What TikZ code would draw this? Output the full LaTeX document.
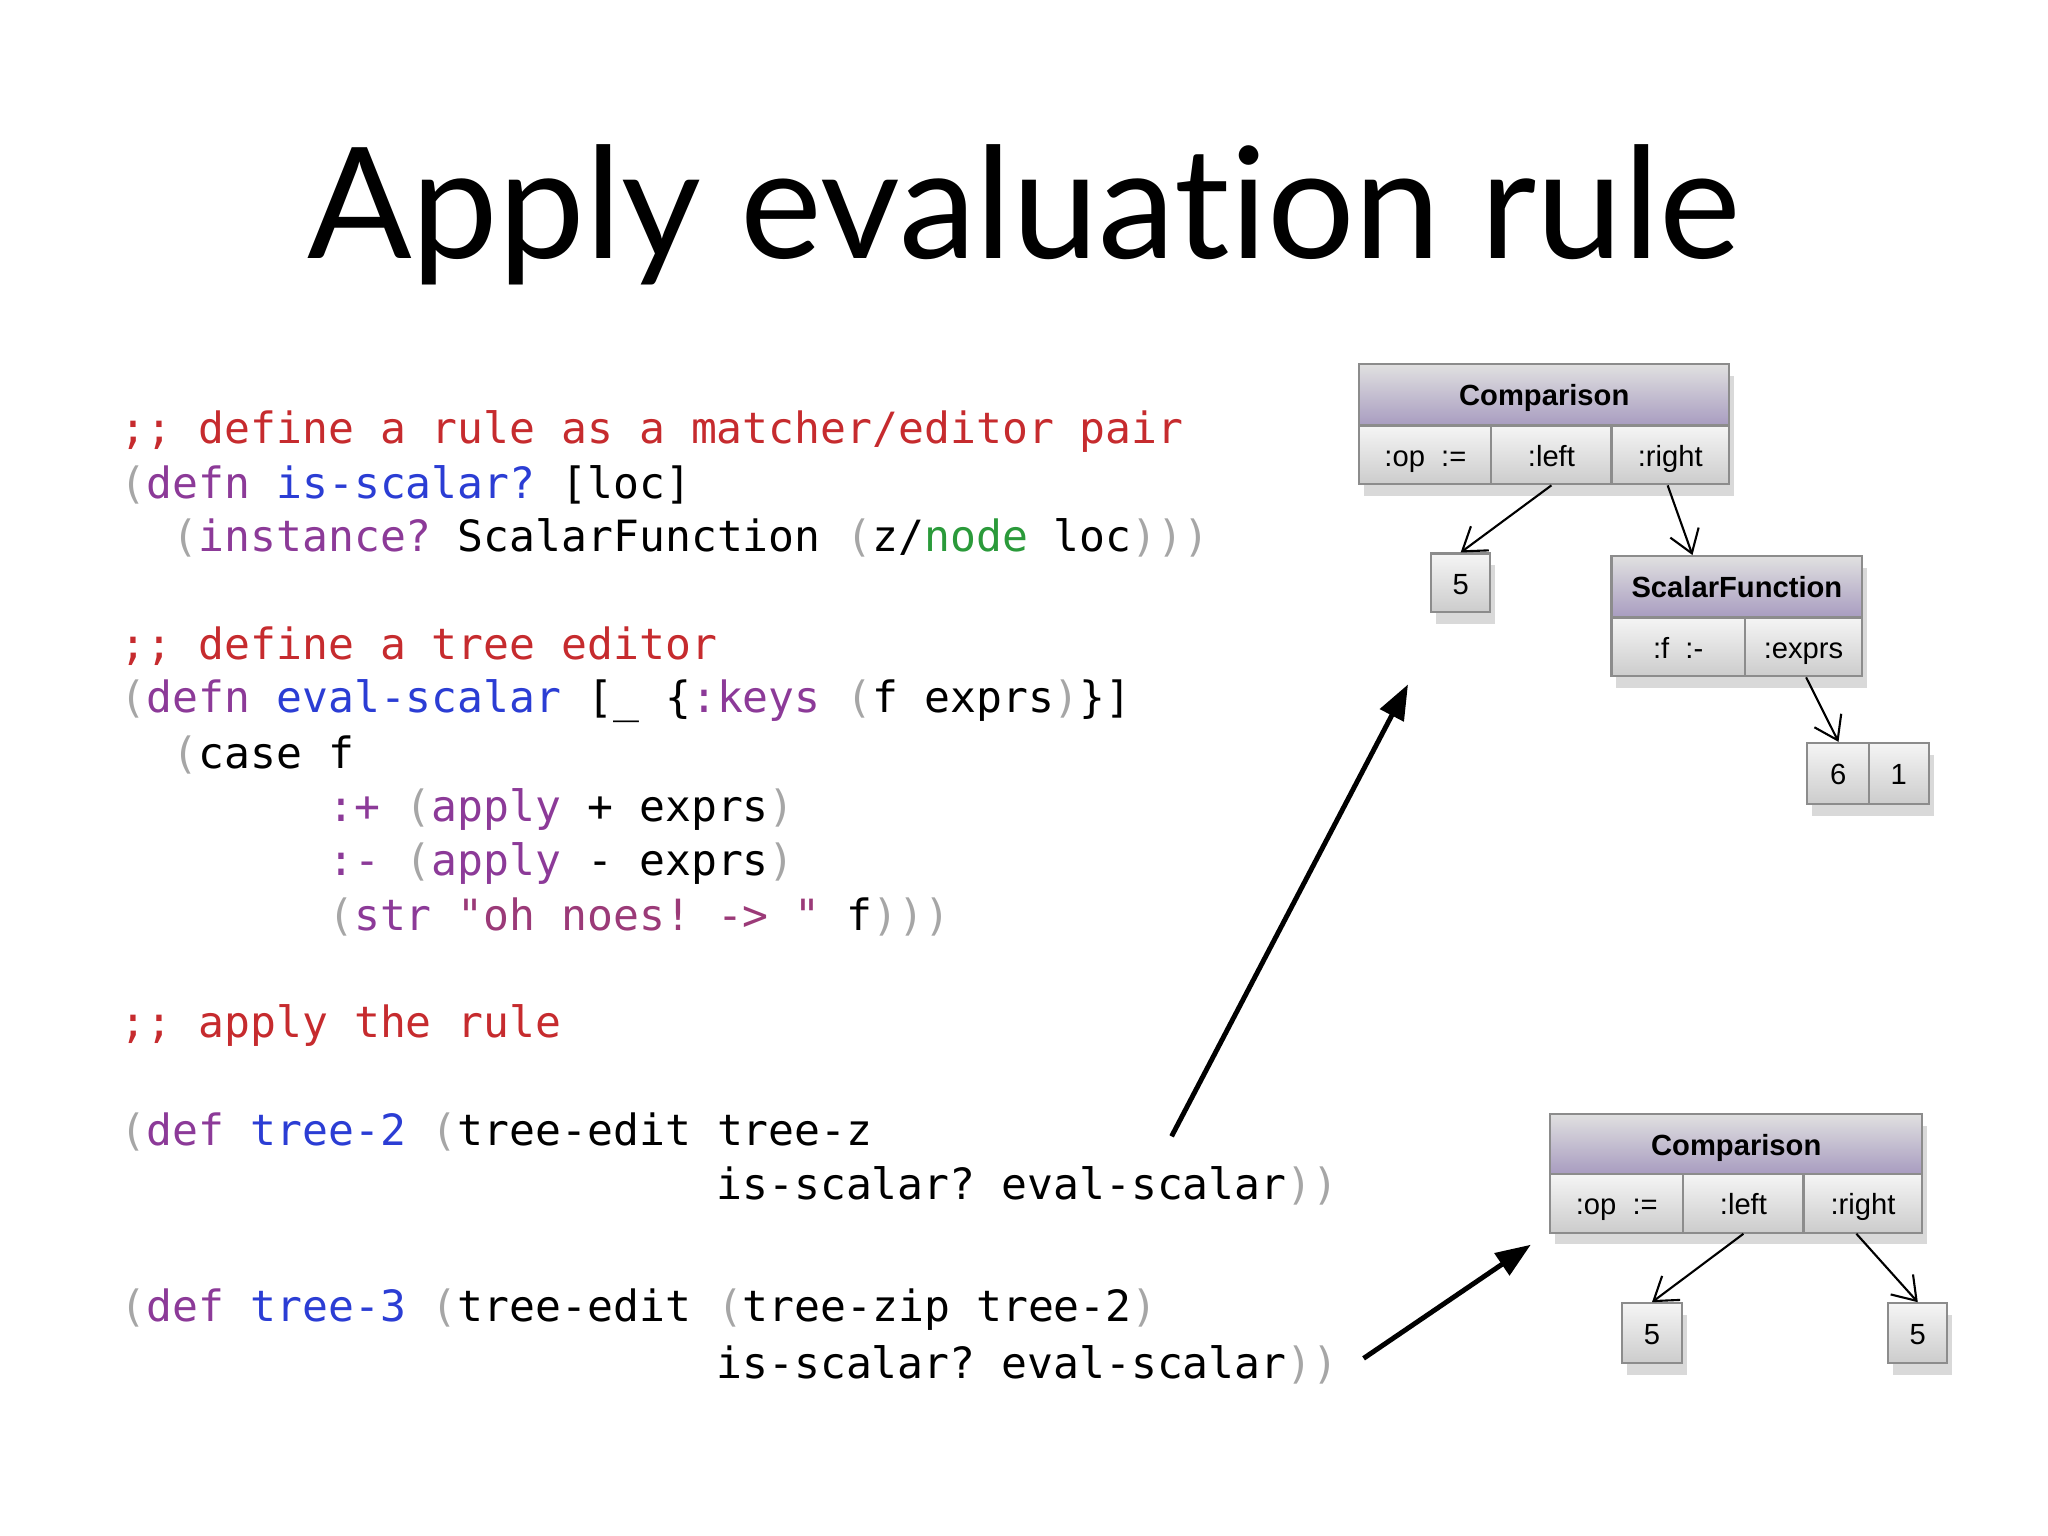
\documentclass[tikz,border=0pt]{standalone}
\usepackage{fontspec}
\setmainfont{Liberation Sans}
\setmonofont{DejaVu Sans Mono}
\newfontfamily\titlefont[Ligatures=NoCommon]{Lato}
\usetikzlibrary{shadows,arrows.meta}
\definecolor{cmt}{HTML}{C62B2E}
\definecolor{kw}{HTML}{8C3A98}
\definecolor{nm}{HTML}{2B3DD4}
\definecolor{pr}{HTML}{A6A6A6}
\definecolor{gr}{HTML}{2A9A3A}
\definecolor{st}{HTML}{9B3A78}
\newcommand\U{0.01306cm}
\newcommand\cCm[1]{\textcolor{cmt}{#1}}
\newcommand\cKw[1]{\textcolor{kw}{#1}}
\newcommand\cNm[1]{\textcolor{nm}{#1}}
\newcommand\cPr[1]{\textcolor{pr}{#1}}
\begin{document}
\begin{tikzpicture}[x=0.01306cm,y=-0.01306cm,
  code/.style={anchor=west,inner sep=0,font=\ttfamily\fontsize{12.25}{14}\selectfont},
  boxbg/.style={anchor=north west,inner sep=0,fill=white,drop shadow={shadow xshift=0.5mm,shadow yshift=-1.2mm,opacity=0.3}},
  hdr/.style={anchor=north west,inner sep=0,text height=1.6ex,text depth=0.4ex,draw=black!45,line width=0.6pt,top color=black!12,bottom color={rgb,255:red,168;green,156;blue,192},font=\bfseries\fontsize{8.3}{10}\selectfont},
  cell/.style={anchor=north west,inner sep=0,text height=1.6ex,text depth=0.4ex,draw=black!45,line width=0.6pt,top color=black!4,bottom color=black!20,font=\fontsize{8.3}{10}\selectfont},
  link/.style={-{Straight Barb[length=2.2mm,width=3mm]},line width=0.6pt},
  big/.style={-{Triangle[length=3.5mm,width=2.6mm]},line width=1.4pt}]
\useasboundingbox (0,0) rectangle (1568,1176);
\node[anchor=base,inner sep=0,font=\titlefont\fontsize{44}{46}\selectfont] (title) at (784,198) {Apply evaluation rule};
% code
\node[code] (l1) at (92,330) {\cCm{;; define a rule as a matcher/editor pair}};
\node[code] (l2) at (92,371) {\cPr{(}\cKw{defn} \cNm{is-scalar?} [loc]};
\node[code] (l3) at (92,412) {\ \ \cPr{(}\cKw{instance?} ScalarFunction \cPr{(}z/\textcolor{gr}{node} loc\cPr{)))}};
\node[code] (l4) at (92,495) {\cCm{;; define a tree editor}};
\node[code] (l5) at (92,537) {\cPr{(}\cKw{defn} \cNm{eval-scalar} [\_ \{\cKw{:keys} \cPr{(}f exprs\cPr{)}\}]};
\node[code] (l6) at (92,578) {\ \ \cPr{(}case f};
\node[code] (l7) at (92,620) {\ \ \ \ \ \ \ \ \cKw{:+} \cPr{(}\cKw{apply} + exprs\cPr{)}};
\node[code] (l8) at (92,661) {\ \ \ \ \ \ \ \ \cKw{:-} \cPr{(}\cKw{apply} - exprs\cPr{)}};
\node[code] (l9) at (92,702) {\ \ \ \ \ \ \ \ \cPr{(}\cKw{str} \textcolor{st}{"oh noes! -> "} f\cPr{)))}};
\node[code] (l10) at (92,785) {\cCm{;; apply the rule}};
\node[code] (l11) at (92,867) {\cPr{(}\cKw{def} \cNm{tree-2} \cPr{(}tree-edit tree-z};
\node[code] (l12) at (548,908) {is-scalar? eval-scalar\cPr{))}};
\node[code] (l13) at (92,1003) {\cPr{(}\cKw{def} \cNm{tree-3} \cPr{(}tree-edit \cPr{(}tree-zip tree-2\cPr{)}};
\node[code] (l14) at (548,1045) {is-scalar? eval-scalar\cPr{))}};
% tree 1
\node[boxbg,minimum width={283*\U},minimum height={92*\U}] (c1) at (1040,278) {};
\node[hdr,minimum width={283*\U},minimum height={47*\U}] (c1h) at (1040,278) {Comparison};
\node[cell,minimum width={101*\U},minimum height={45*\U}] (c1op) at (1040,325) {:op\ \ :=};
\node[cell,minimum width={92*\U},minimum height={45*\U}] (c1l) at (1141,325) {:left};
\node[cell,minimum width={90*\U},minimum height={45*\U}] (c1r) at (1233,325) {:right};
\node[boxbg,minimum width={45*\U},minimum height={45*\U}] (f1bg) at (1095,423) {};
\node[cell,minimum width={45*\U},minimum height={45*\U}] (f1) at (1095,423) {5};
\node[boxbg,minimum width={192*\U},minimum height={92*\U}] (s1) at (1233,425) {};
\node[hdr,minimum width={192*\U},minimum height={47*\U}] (s1h) at (1233,425) {ScalarFunction};
\node[cell,minimum width={102*\U},minimum height={45*\U}] (s1f) at (1233,472) {:f\ \ :-};
\node[cell,minimum width={90*\U},minimum height={45*\U}] (s1e) at (1335,472) {:exprs};
\node[boxbg,minimum width={93*\U},minimum height={47*\U}] (v1) at (1383,568) {};
\node[cell,minimum width={47*\U},minimum height={47*\U}] (v6) at (1383,568) {6};
\node[cell,minimum width={46*\U},minimum height={47*\U}] (v1b) at (1430,568) {1};
\draw[link] (c1l.south) -- (f1.north);
\draw[link] ([xshift={-2*\U}]c1r.south) -- ([xshift={-34*\U}]s1h.north);
\draw[link] ([xshift={2*\U}]s1e.south) -- ([xshift={-24*\U}]v6.north east);
% tree 2
\node[boxbg,minimum width={285*\U},minimum height={91*\U}] (c2) at (1186,852) {};
\node[hdr,minimum width={285*\U},minimum height={46*\U}] (c2h) at (1186,852) {Comparison};
\node[cell,minimum width={102*\U},minimum height={45*\U}] (c2op) at (1186,898) {:op\ \ :=};
\node[cell,minimum width={92*\U},minimum height={45*\U}] (c2l) at (1288,898) {:left};
\node[cell,minimum width={91*\U},minimum height={45*\U}] (c2r) at (1380,898) {:right};
\node[boxbg,minimum width={46*\U},minimum height={46*\U}] (g1bg) at (1241,997) {};
\node[cell,minimum width={46*\U},minimum height={46*\U}] (g1) at (1241,997) {5};
\node[boxbg,minimum width={45*\U},minimum height={46*\U}] (g2bg) at (1445,997) {};
\node[cell,minimum width={45*\U},minimum height={46*\U}] (g2) at (1445,997) {5};
\draw[link] (c2l.south) -- (g1.north);
\draw[link] ([xshift={-5*\U}]c2r.south) -- (g2.north);
% big arrows
\coordinate (a1s) at (897,870); \coordinate (a1e) at (1078,524);
\coordinate (a2s) at (1044,1040); \coordinate (a2e) at (1172,953);
\draw[big] (a1s) -- (a1e);
\draw[big] (a2s) -- (a2e);
\end{tikzpicture}
\end{document}
